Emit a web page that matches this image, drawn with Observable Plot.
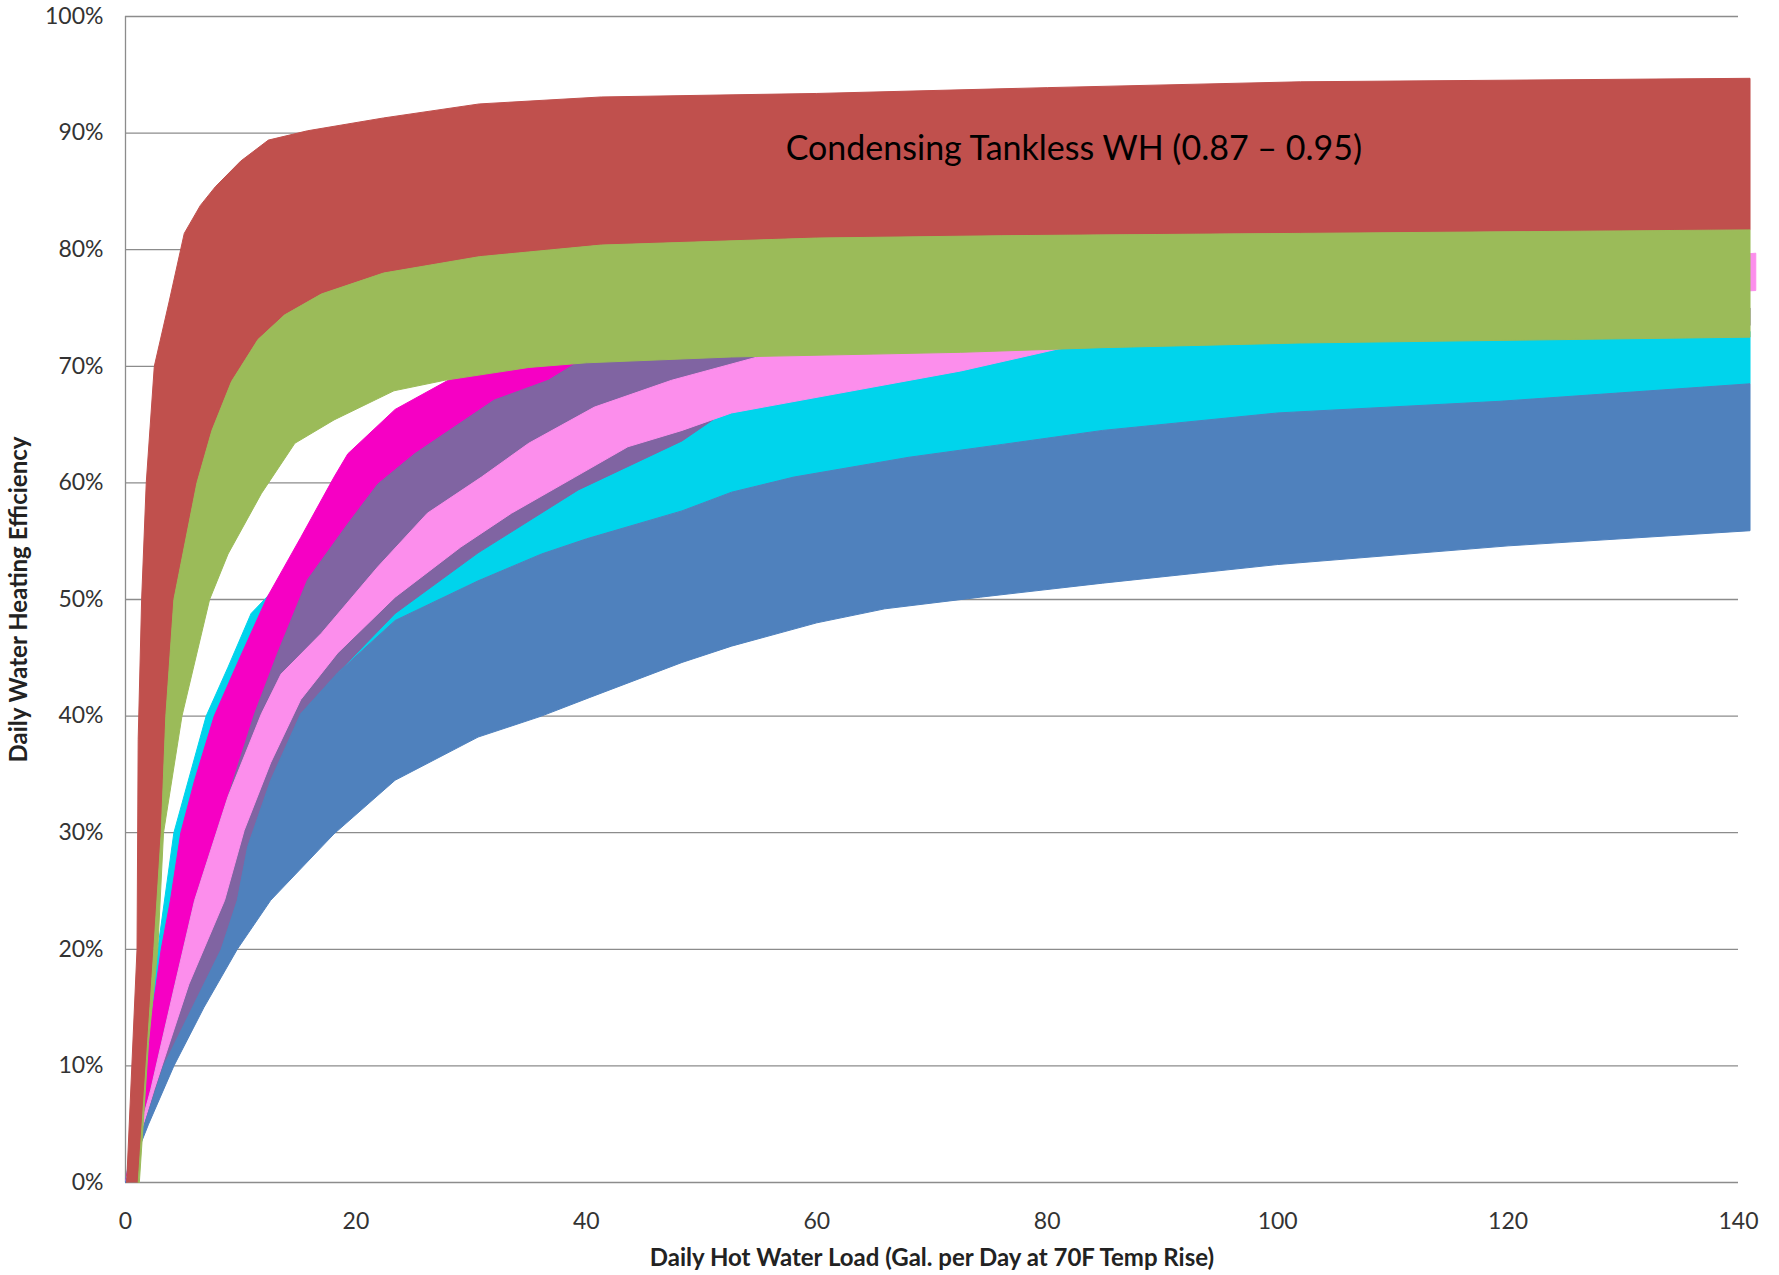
<!DOCTYPE html>
<html>
<head>
<meta charset="utf-8">
<script src="https://cdn.jsdelivr.net/npm/d3@7"></script>
<script src="https://cdn.jsdelivr.net/npm/@observablehq/plot@0.6"></script>
<style>
  body { margin: 0; background: #fff; }
</style>
</head>
<body>
<div id="chart"></div>
<script>
// ---- Axis ticks and titles ----
const xTicks = [0, 20, 40, 60, 80, 100, 120, 140];
const yTicks = [0, 10, 20, 30, 40, 50, 60, 70, 80, 90, 100];
const xTitle = "Daily Hot Water Load (Gal. per Day at 70F Temp Rise)";
const yTitle = "Daily Water Heating Efficiency";

// ---- Annotation ----
const annotationText = ["Condensing Tankless WH (0.87 \u2013 0.95)"];
const annotationX = [57.3];
const annotationY = [88.6];

// ---- Band edges: [daily load (gal/day), efficiency %] ----
const redTop = [[0.1,0],[1.0,20],[1.1,38],[1.4,50],[1.8,60],[2.5,70],[3.8,75.6],[5.1,81.4],[6.5,83.8],[7.8,85.4],[10,87.6],[12.4,89.4],[15.8,90.2],[22.4,91.3],[30.7,92.5],[41.3,93.1],[60,93.4],[80,93.9],[102,94.4],[141,94.7]];
const redBottom = [[1.1,0],[2.46,20],[3.1,30],[3.5,40],[4.2,50],[5.0,54],[6.2,60],[7.5,64.5],[9.2,68.7],[11.5,72.3],[13.8,74.4],[17,76.2],[22.4,78],[30.7,79.4],[41.3,80.4],[60,81],[76,81.2],[102,81.4],[141,81.7]];

const greenTop = [[1.1,0],[2.46,20],[3.1,30],[3.5,40],[4.2,50],[5.0,54],[6.2,60],[7.5,64.5],[9.2,68.7],[11.5,72.3],[13.8,74.4],[17,76.2],[22.4,78],[30.7,79.4],[41.3,80.4],[60,81],[76,81.2],[102,81.4],[141,81.7]];
const greenBottom = [[1.2,0],[2,12],[2.8,20],[3.3,30],[4.9,40],[7.3,50],[8.9,53.9],[11.8,59.1],[14.7,63.4],[18.1,65.4],[23.3,67.9],[27.7,68.8],[35,69.9],[40,70.3],[52.6,70.8],[72.5,71.2],[84.8,71.6],[102,72],[141,72.5]];

const cyanTop = [[0,0],[1.5,10],[2.8,20],[4.2,30],[7,40],[8.9,44.2],[10.9,48.8],[14,52],[18,57],[23,63],[28,68.3],[32,70],[40,71],[52.6,71.3],[72.5,71.7],[84.8,72.1],[102,72.5],[141,73]];
const cyanBottom = [[0,0],[3.3,10],[8.3,20],[9.7,24.2],[10.6,28.8],[12.6,34.5],[15.2,40.2],[18.4,43.7],[23.4,48.2],[30.6,51.6],[36.1,53.9],[40,55.2],[48.3,57.6],[52.6,59.2],[58,60.5],[68,62.2],[76.1,63.3],[84.8,64.5],[100,66],[119.3,67],[141,68.5]];

const magentaTop = [[0,0],[1.5,9],[3.1,20],[3.9,24.2],[4.8,30],[6,34.5],[7.7,40],[9.7,44.5],[12.3,50.2],[15.2,55.3],[18.1,60.5],[19.3,62.5],[23.4,66.3],[28,68.8],[32,70.2],[40,71],[45,71.3]];
const magentaBottom = [[0,0],[2.2,8],[4.3,17],[6,24.2],[8.9,33.1],[11.2,40.2],[13.2,45.4],[15.8,51.7],[19.3,56.5],[21.9,59.9],[25.1,62.5],[32,67.1],[36.7,68.8],[40,70.8],[45,71.1]];

const purpleTop = [[0,0],[2.2,8],[4.3,17],[6,24.2],[8.9,33.1],[11.2,40.2],[13.2,45.4],[15.8,51.7],[19.3,56.5],[21.9,59.9],[25.1,62.5],[32,67.1],[36.7,68.8],[40,70.8],[55,71.5],[81,72.5],[141,75]];
const purpleBottom = [[0,0],[3.3,10],[8.3,20],[9.7,24.2],[10.6,28.8],[12.6,34.5],[15.2,40.2],[18.4,43.7],[23.4,48.8],[30.6,54],[39.3,59.4],[48.3,63.6],[52.6,66.5],[60,68.5],[72.5,70.5],[81,72],[141,73.5]];

const pinkTop = [[0,0],[2.2,8],[4.3,17],[6,24.2],[8.9,33.1],[11.8,40.2],[13.5,43.6],[17,47.1],[21.9,52.8],[26.2,57.4],[30.9,60.5],[35,63.4],[40.7,66.5],[47.4,68.8],[55.6,71],[60,71.7],[80,73.5],[100,76],[120,78],[141.5,79.7]];
const pinkBottom = [[0,0],[2.5,8],[5.5,17],[8.6,24.2],[10.3,30.2],[12.6,36],[15.2,41.4],[18.4,45.4],[23.4,50.2],[29.1,54.5],[33.5,57.4],[39,60.5],[43.6,63.1],[48.3,64.5],[52.6,66],[72.5,69.6],[81,71.5],[100,73.5],[120,75.5],[141.5,76.5]];

const blueTop = [[0,0],[3.3,10],[8.3,20],[9.7,24.2],[10.6,28.8],[12.6,34.5],[15.2,40.2],[18.4,43.7],[23.4,48.2],[30.6,51.6],[36.1,53.9],[40,55.2],[48.3,57.6],[52.6,59.2],[58,60.5],[68,62.2],[76.1,63.3],[84.8,64.5],[100,66],[119.3,67],[141,68.5]];
const blueBottom = [[0,0],[2,5],[4.2,10],[6.8,15],[9.7,20],[12.6,24.2],[18.1,29.9],[23.4,34.5],[30.6,38.2],[36.1,40],[40.3,41.6],[48.3,44.6],[52.6,46],[60,48],[65.9,49.2],[74.2,50.2],[84.8,51.4],[100,53],[120,54.6],[141,55.9]];

// ---- Band colours (drawn back to front) ----
const bandNames  = ["cyan", "magenta", "purple", "pink", "blue", "red", "green"];
const bandColors = ["#00D4EC", "#F600C4", "#8064A2", "#FC8EEC", "#4F81BD", "#C0504D", "#9BBB59"];

const bandEdges = {
  cyan: [cyanTop, cyanBottom],
  magenta: [magentaTop, magentaBottom],
  purple: [purpleTop, purpleBottom],
  pink: [pinkTop, pinkBottom],
  blue: [blueTop, blueBottom],
  red: [redTop, redBottom],
  green: [greenTop, greenBottom]
};

function polygon(top, bottom) {
  return top.concat(bottom.slice().reverse());
}

const bandMarks = bandNames.map((name, i) => {
  const [top, bottom] = bandEdges[name];
  return Plot.line(polygon(top, bottom), {
    x: d => d[0],
    y: d => d[1],
    fill: bandColors[i],
    stroke: bandColors[i],
    strokeWidth: 1,
    curve: "linear"
  });
});

const gridColor = "#8c8c8c";

const plot = Plot.plot({
  width: 1779,
  height: 1275,
  marginLeft: 125,
  marginRight: 41,
  marginTop: 16,
  marginBottom: 93,
  style: { fontFamily: "Lato, 'Open Sans', sans-serif", fontSize: "23px", color: "#333", background: "#fff" },
  x: { domain: [0, 140], ticks: xTicks, tickSize: 0, tickPadding: 30, label: null },
  y: { domain: [0, 100], ticks: yTicks, tickSize: 0, tickPadding: 22, tickFormat: d => d + "%", label: null },
  marks: [
    Plot.ruleY(yTicks, { stroke: gridColor, strokeWidth: 1.3 }),
    Plot.ruleX([0], { stroke: gridColor, strokeWidth: 1.3 }),
    ...bandMarks,
    Plot.text(annotationText, {
      x: (d, i) => annotationX[i],
      y: (d, i) => annotationY[i],
      text: d => d,
      textAnchor: "start",
      fontSize: 34,
      fill: "#000"
    }),
    Plot.text([xTitle], {
      frameAnchor: "bottom",
      text: d => d,
      dy: 83,
      textAnchor: "middle",
      fontSize: 24,
      fontWeight: "bold",
      fill: "#222"
    }),
    Plot.text([yTitle], {
      frameAnchor: "left",
      text: d => d,
      dx: -106,
      rotate: -90,
      textAnchor: "middle",
      fontSize: 24,
      fontWeight: "bold",
      fill: "#222"
    })
  ]
});

document.getElementById("chart").appendChild(plot);
</script>
</body>
</html>
